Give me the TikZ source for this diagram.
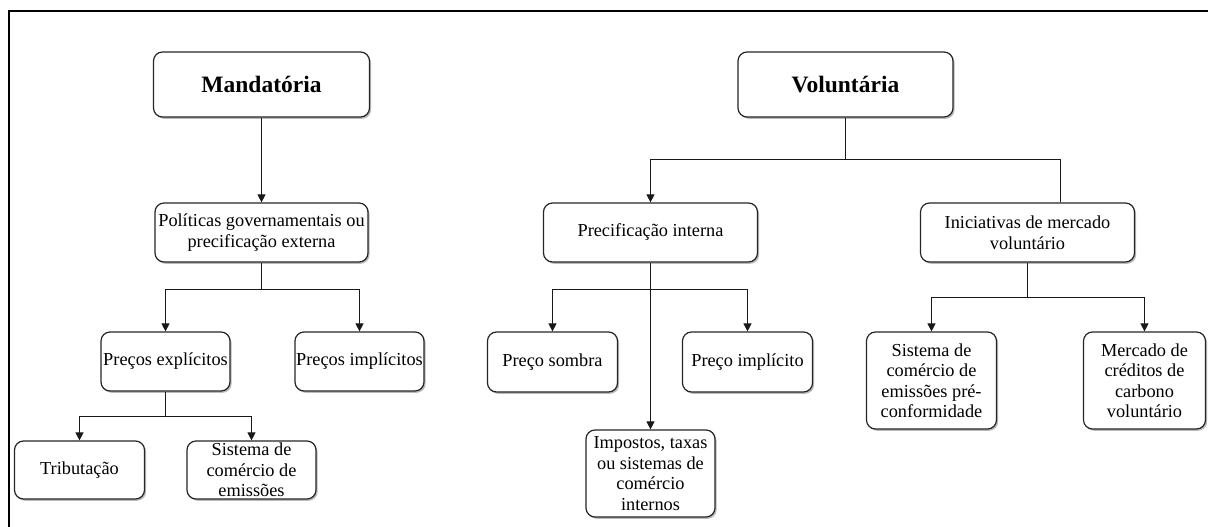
\documentclass[tikz,border=0pt]{standalone}
\usepackage{fontspec}
\setmainfont{Liberation Serif}
\usetikzlibrary{arrows.meta,shadows}
\begin{document}
\begin{tikzpicture}[x=1pt,y=-1pt,
  box/.style={draw=black!85, line width=1.2pt, rounded corners=9pt, fill=white,
    drop shadow={shadow xshift=1.6pt, shadow yshift=-1.8pt, fill=black!45, opacity=0.6},
    align=center, inner sep=0pt, font=\fontsize{18.3}{20.5}\selectfont},
  head/.style={box, font=\bfseries\fontsize{23.5}{26}\selectfont},
  conn/.style={draw=black!90, line width=1.1pt},
  arr/.style={conn, -{Triangle[length=8pt,width=8pt]}}]
\useasboundingbox (0,0) rectangle (1208,527);
\fill[white] (0,0) rectangle (1208,527);
\draw[line width=2pt] (8.5,527) -- (8.5,11.5) -- (1208,11.5);

% nodes
\node[head, minimum width=216pt, minimum height=65pt] (mand) at (261.5,84.5) {Mandatória};
\node[head, minimum width=215pt, minimum height=65pt] (vol) at (845.5,84.5) {Voluntária};
\node[box, minimum width=213pt, minimum height=59pt] (pol) at (261.5,232.5) {Políticas governamentais ou\\precificação externa};
\node[box, minimum width=214pt, minimum height=59pt] (prec) at (650.5,232.5) {Precificação interna};
\node[box, minimum width=214pt, minimum height=59pt] (ini) at (1027.5,232.5) {Iniciativas de mercado\\voluntário};
\node[box, minimum width=129pt, minimum height=59pt] (pexp) at (165.5,361.5) {Preços explícitos};
\node[box, minimum width=129pt, minimum height=59pt] (pimp) at (359.5,361.5) {Preços implícitos};
\node[box, minimum width=130pt, minimum height=58pt] (trib) at (79.5,470) {Tributação};
\node[box, minimum width=129pt, minimum height=58pt] (sce) at (251.5,470) {Sistema de\\comércio de\\emissões};
\node[box, minimum width=130pt, minimum height=60pt] (psom) at (552.5,362) {Preço sombra};
\node[box, minimum width=130pt, minimum height=60pt] (pimpl) at (747.5,362) {Preço implícito};
\node[box, minimum width=129pt, minimum height=87pt] (imp) at (650.5,473.5) {Impostos, taxas\\ou sistemas de\\comércio\\internos};
\node[box, minimum width=130pt, minimum height=97pt] (scep) at (931.5,380.5) {Sistema de\\comércio de\\emissões pré-\\conformidade};
\node[box, minimum width=122pt, minimum height=97pt] (merc) at (1144.5,380.5) {Mercado de\\créditos de\\carbono\\voluntário};

% junction levels
\coordinate (y1) at (0,289.5);
\coordinate (y2) at (0,416.5);
\coordinate (y3) at (0,159.5);
\coordinate (y4) at (0,297.5);
\coordinate (xr) at (1060.5,0);

% connectors
\draw[arr] (mand.south) -- (pol.north);
\draw[conn] (pol.south) -- (pol.south |- y1);
\draw[arr] (pol.south |- y1) -| (pexp.north);
\draw[arr] (pol.south |- y1) -| (pimp.north);
\draw[conn] (pexp.south) -- (pexp.south |- y2);
\draw[arr] (pexp.south |- y2) -| (trib.north);
\draw[arr] (pexp.south |- y2) -| (sce.north);

\draw[conn] (vol.south) -- (vol.south |- y3);
\draw[arr] (vol.south |- y3) -| (prec.north);
\draw[conn] (vol.south |- y3) -| (xr |- ini.north);

\draw[arr] (prec.south) -- (imp.north);
\draw[arr] (prec.south |- y1) -| (psom.north);
\draw[arr] (prec.south |- y1) -| (pimpl.north);

\draw[conn] (ini.south) -- (ini.south |- y4);
\draw[arr] (ini.south |- y4) -| (scep.north);
\draw[arr] (ini.south |- y4) -| (merc.north);
\end{tikzpicture}
\end{document}
